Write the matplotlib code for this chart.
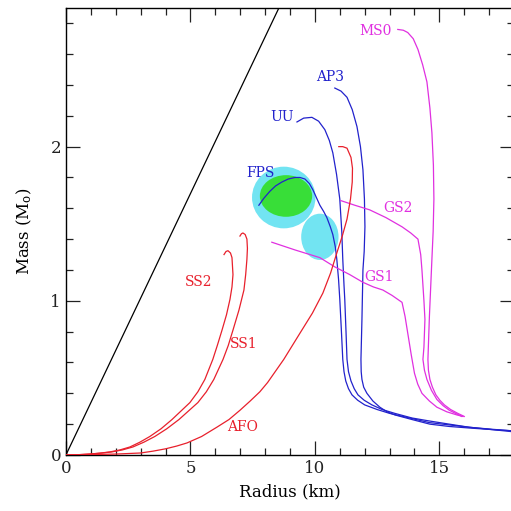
import matplotlib
matplotlib.use("Agg")
import matplotlib.pyplot as plt
from matplotlib.patches import Ellipse
from matplotlib.ticker import MultipleLocator

plt.rcParams["mathtext.fontset"] = "dejavuserif"
plt.rcParams["font.family"] = ["DejaVu Serif"]

# mass-radius curves (radius km, mass Msun)
fps_r = [7.75, 7.95, 8.19, 8.42, 8.67, 8.93, 9.20, 9.40, 9.60, 9.78, 9.92, 10.06, 10.2, 10.35, 10.48,
         10.62, 10.72, 10.82, 10.88, 10.95, 11.0, 11.06, 11.12, 11.17, 11.24, 11.35, 11.49, 11.72,
         12.0, 12.5, 13.0, 13.8, 14.6, 15.4, 16.2, 17.1, 18.0]
fps_m = [1.62, 1.665, 1.71, 1.745, 1.77, 1.79, 1.80, 1.80, 1.79, 1.76, 1.72, 1.67, 1.62, 1.58, 1.54,
         1.48, 1.43, 1.35, 1.27, 1.14, 1.01, 0.82, 0.62, 0.54, 0.48, 0.43, 0.39, 0.355,
         0.325, 0.295, 0.27, 0.24, 0.21, 0.195, 0.18, 0.165, 0.15]

uu_r = [9.28, 9.55, 9.88, 10.15, 10.40, 10.58, 10.72, 10.87, 11.0, 11.08, 11.12, 11.17, 11.20, 11.25,
        11.29, 11.35, 11.45, 11.58, 11.73, 11.98, 12.29, 12.7, 13.21, 13.9, 14.62, 15.4, 16.2, 17.1, 18.0]
uu_m = [2.16, 2.185, 2.19, 2.165, 2.11, 2.04, 1.96, 1.82, 1.66, 1.45, 1.27, 1.10, 1.01, 0.80,
        0.62, 0.54, 0.48, 0.43, 0.39, 0.355, 0.325, 0.295, 0.27, 0.24, 0.22, 0.20, 0.18, 0.167, 0.156]

ap3_r = [10.80, 11.05, 11.29, 11.50, 11.69, 11.83, 11.93, 11.99, 12.01, 11.98, 11.93, 11.89, 11.85,
         11.86, 11.89, 11.96, 12.09, 12.33, 12.61, 12.9, 13.21, 13.9, 14.62, 15.4, 16.2, 17.1, 18.0]
ap3_m = [2.38, 2.36, 2.32, 2.24, 2.13, 2.00, 1.85, 1.66, 1.48, 1.32, 1.20, 0.88, 0.62,
         0.54, 0.49, 0.44, 0.40, 0.35, 0.31, 0.28, 0.26, 0.23, 0.20, 0.185, 0.175, 0.165, 0.156]

ms0_r = [13.33, 13.55, 13.73, 13.95, 14.14, 14.33, 14.5, 14.62, 14.7, 14.76, 14.78, 14.75, 14.7,
         14.6, 14.54, 14.56, 14.62, 14.72, 14.86, 15.02, 15.2, 15.45, 15.74, 16.0]
ms0_m = [2.76, 2.755, 2.74, 2.70, 2.63, 2.53, 2.42, 2.25, 2.09, 1.88, 1.66, 1.45, 1.27,
         0.90, 0.62, 0.55, 0.49, 0.44, 0.39, 0.355, 0.325, 0.295, 0.27, 0.25]

gs2_r = [11.04, 11.6, 12.2, 12.85, 13.5, 13.85, 14.14, 14.25, 14.3, 14.38, 14.42, 14.38, 14.34,
         14.4, 14.5, 14.68, 14.9, 15.15, 15.4, 15.9]
gs2_m = [1.65, 1.62, 1.59, 1.54, 1.48, 1.44, 1.40, 1.30, 1.20, 1.00, 0.88, 0.70, 0.62,
         0.55, 0.49, 0.42, 0.36, 0.32, 0.29, 0.25]

gs1_r = [8.27, 9.2, 10.2, 10.8, 11.4, 11.93, 12.35, 12.73, 13.1, 13.5, 13.62, 13.73, 13.87, 14.0,
         14.13, 14.3, 14.6, 14.9, 15.3, 15.7, 15.95]
gs1_m = [1.38, 1.33, 1.28, 1.22, 1.17, 1.12, 1.09, 1.07, 1.035, 0.99, 0.90, 0.79, 0.65, 0.53,
         0.46, 0.40, 0.35, 0.31, 0.28, 0.26, 0.25]

afo_r = [0.0, 1.0, 2.0, 3.0, 3.5, 4.0, 4.45, 4.86, 5.45, 6.06, 6.55, 6.99, 7.4, 7.79, 8.1, 8.75,
         9.4, 9.9, 10.32, 10.63, 10.88, 11.1, 11.29, 11.43, 11.5, 11.51, 11.45, 11.29, 11.12, 10.96]
afo_m = [0.0, 0.003, 0.006, 0.013, 0.025, 0.04, 0.058, 0.078, 0.12, 0.18, 0.23, 0.29, 0.35, 0.41,
         0.47, 0.62, 0.79, 0.92, 1.05, 1.18, 1.31, 1.42, 1.53, 1.66, 1.77, 1.86, 1.93, 1.99, 2.0, 2.0]

ss2_r = [6.35, 6.43, 6.51, 6.61, 6.67, 6.71, 6.67, 6.59, 6.45, 6.27, 6.08, 5.90, 5.58, 5.30, 4.98,
         4.62, 4.26, 3.82, 3.37, 2.97, 2.57, 2.17, 1.77, 1.36, 0.96, 0.5, 0.0]
ss2_m = [1.30, 1.32, 1.325, 1.31, 1.28, 1.17, 1.09, 1.01, 0.91, 0.81, 0.71, 0.62, 0.49, 0.41, 0.34,
         0.285, 0.23, 0.17, 0.12, 0.083, 0.052, 0.033, 0.02, 0.012, 0.006, 0.002, 0.0]

ss1_r = [6.99, 7.05, 7.11, 7.20, 7.27, 7.29, 7.27, 7.22, 7.15, 6.95, 6.71, 6.52, 6.31, 5.94, 5.64,
         5.30, 4.92, 4.54, 4.05, 3.57, 3.13, 2.69, 2.27, 1.85, 1.4, 0.96, 0.5, 0.0]
ss1_m = [1.42, 1.435, 1.44, 1.43, 1.40, 1.34, 1.27, 1.17, 1.07, 0.94, 0.81, 0.71, 0.62, 0.49, 0.41,
         0.34, 0.285, 0.23, 0.17, 0.12, 0.083, 0.052, 0.033, 0.02, 0.012, 0.006, 0.002, 0.0]

# causality / Schwarzschild limit line
bh_r = [0.0, 8.6]
bh_m = [0.0, 2.915]

# observed mass-radius constraint regions: centre r, centre m, width, height
blob_cx = [8.75, 10.2, 8.84]
blob_cy = [1.67, 1.415, 1.68]
blob_w = [2.55, 1.5, 2.1]
blob_h = [0.40, 0.30, 0.27]
blob_col = ["#72e4f2", "#72e4f2", "#38de38"]

RED = "#e8202c"
BLUE = "#2222cc"
MAG = "#e030e0"

curves = [
    (fps_r, fps_m, BLUE), (uu_r, uu_m, BLUE), (ap3_r, ap3_m, BLUE),
    (ms0_r, ms0_m, MAG), (gs2_r, gs2_m, MAG), (gs1_r, gs1_m, MAG),
    (afo_r, afo_m, RED), (ss2_r, ss2_m, RED), (ss1_r, ss1_m, RED),
]

labels = [
    ("MS0", 12.45, 2.75, MAG), ("AP3", 10.6, 2.45, BLUE), ("UU", 8.67, 2.19, BLUE),
    ("FPS", 7.83, 1.83, BLUE), ("GS2", 13.33, 1.60, MAG), ("GS1", 12.57, 1.156, MAG),
    ("SS2", 5.34, 1.12, RED), ("SS1", 7.15, 0.72, RED), ("AFO", 7.1, 0.18, RED),
]

fig = plt.figure(figsize=(5.11, 5.11), dpi=100)
ax = fig.add_axes([0.129, 0.1096, 0.877, 0.875])

for cx, cy, w, h, c in zip(blob_cx, blob_cy, blob_w, blob_h, blob_col):
    ax.add_patch(Ellipse((cx, cy), w, h, facecolor=c, edgecolor="none", zorder=1))

ax.plot(bh_r, bh_m, color="black", lw=0.9, zorder=2)
for r, m, c in curves:
    ax.plot(r, m, color=c, lw=0.9, zorder=3)

for txt, x, y, c in labels:
    ax.text(x, y, txt, color=c, fontsize=10, ha="center", va="center", zorder=4)

ax.set_xlim(0, 18)
ax.set_ylim(0, 2.9)
ax.xaxis.set_major_locator(MultipleLocator(5))
ax.xaxis.set_minor_locator(MultipleLocator(1))
ax.yaxis.set_major_locator(MultipleLocator(1))
ax.yaxis.set_minor_locator(MultipleLocator(0.2))
ax.tick_params(which="both", direction="in", top=True, right=True, width=0.9,
               labelsize=12, colors="#222222")
ax.tick_params(which="major", length=10)
ax.tick_params(which="minor", length=5)
for s in ax.spines.values():
    s.set_linewidth(1.0)

ax.set_xlabel("Radius (km)", fontsize=12, labelpad=5)
ax.set_ylabel(r"Mass (M$_{\rm o}$)", fontsize=12, labelpad=12)

fig.savefig("out.png", dpi=100)
